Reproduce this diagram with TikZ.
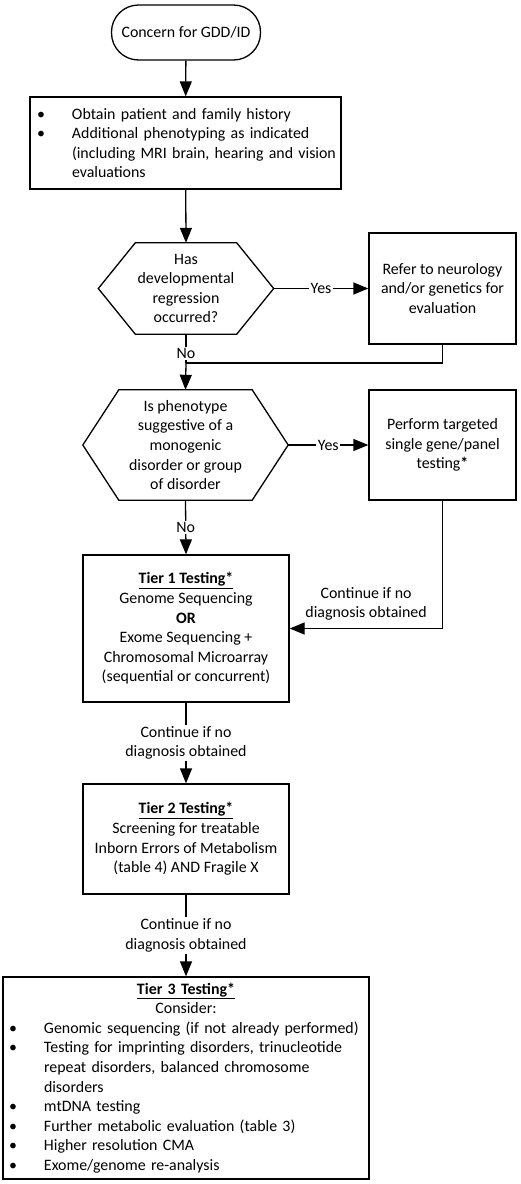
\documentclass[tikz,border=0pt]{standalone}
\usepackage{fontspec}
\setmainfont{Carlito}
\usetikzlibrary{arrows.meta,calc}
\newcommand\drawhexa[2]{\draw[lin] (#1.west) -- ([xshift=#2]#1.north west) -- ([xshift=-#2]#1.north east) -- (#1.east) -- ([xshift=-#2]#1.south east) -- ([xshift=#2]#1.south west) -- cycle;}
\newcommand\bitem[1]{\makebox[37pt][l]{\hspace{2pt}\textbullet}#1}
\newcommand\bcont[1]{\hspace*{37pt}#1}
\newcommand\tiertitle[1]{\underline{\textbf{#1}}}
\begin{document}
\begin{tikzpicture}[x=1pt,y=-1pt,
  every node/.style={font=\fontsize{15.9}{19.6}\selectfont},
  lin/.style={line width=1.3pt, black},
  arr/.style={lin, -{Triangle[length=15pt,width=12pt]}},
  box/.style={draw, lin, rectangle, inner sep=0pt, align=center},
  hexa/.style={rectangle, inner sep=0pt, align=center},
  lab/.style={fill=white, inner sep=1.5pt, align=center}]
\useasboundingbox (0,0) rectangle (520,1184);

\node[box, rounded corners=27pt, minimum width=149pt, minimum height=55pt] (start) at (186,32.5) {Concern for GDD/ID};

\node[box, minimum width=311pt, minimum height=92pt, text width=301pt, align=left, inner xsep=5pt] (hist) at (185.5,143) {%
\bitem{Obtain patient and family history}\\
\bitem{Additional phenotyping as indicated}\\
\bcont{(including MRI brain, hearing and vision}\\
\bcont{evaluations}};

\node[hexa, minimum width=175pt, minimum height=91pt] (h1) at (186,288.5) {Has\\developmental\\regression\\occurred?};
\drawhexa{h1}{37pt}

\node[box, minimum width=147pt, minimum height=111pt] (refer) at (442.5,288.5) {Refer to neurology\\and/or genetics for\\evaluation};

\node[hexa, minimum width=205pt, minimum height=110pt] (h2) at (185.5,445) {Is phenotype\\suggestive of a\\monogenic\\disorder or group\\of disorder};
\drawhexa{h2}{36pt}

\node[box, minimum width=147pt, minimum height=110pt] (perf) at (442.5,445) {Perform targeted\\single gene/panel\\testing\textbf{*}};

\node[box, minimum width=206pt, minimum height=147pt] (t1) at (186,628.5) {\tiertitle{Tier 1 Testing*}\\Genome Sequencing\\\textbf{OR}\\Exome Sequencing +\\Chromosomal Microarray\\(sequential or concurrent)};

\node[box, minimum width=206pt, minimum height=110pt] (t2) at (186,839) {\tiertitle{Tier 2 Testing*}\\Screening for treatable\\Inborn Errors of Metabolism\\(table 4) AND Fragile X};

\node[box, minimum width=366pt, minimum height=202pt, text width=358pt, align=left, inner xsep=4pt] (t3) at (186,1078) {%
\makebox[\linewidth]{\tiertitle{Tier 3 Testing*}}\\
\makebox[\linewidth]{Consider:}\\
\bitem{Genomic sequencing (if not already performed)}\\
\bitem{Testing for imprinting disorders, trinucleotide}\\
\bcont{repeat disorders, balanced chromosome}\\
\bcont{disorders}\\
\bitem{mtDNA testing}\\
\bitem{Further metabolic evaluation (table 3)}\\
\bitem{Higher resolution CMA}\\
\bitem{Exome/genome re-analysis}};

\coordinate (mrg) at (186,363);

\draw[arr] (start) -- (hist);
\draw[arr] (hist) -- (h1.north);
\draw[arr] (h1.east) -- node[lab]{Yes} (refer.west);
\draw[lin] (h1.south) -- node[lab, pos=0.68]{No} (mrg);
\draw[lin] (refer.south) |- (mrg);
\draw[arr] (mrg) -- (h2.north);
\draw[arr] (h2.east) -- node[lab]{Yes} (perf.west);
\draw[arr] (h2.south) -- node[lab]{No} (t1.north);
\draw[arr] (perf.south) |- node[lab, pos=0.75, above=6pt, fill=none]{Continue if no\\diagnosis obtained} (t1.east);
\draw[arr] (t1.south) -- node[lab]{Continue if no\\diagnosis obtained} (t2.north);
\draw[arr] (t2.south) -- node[lab]{Continue if no\\diagnosis obtained} (t3.north);
\end{tikzpicture}
\end{document}
